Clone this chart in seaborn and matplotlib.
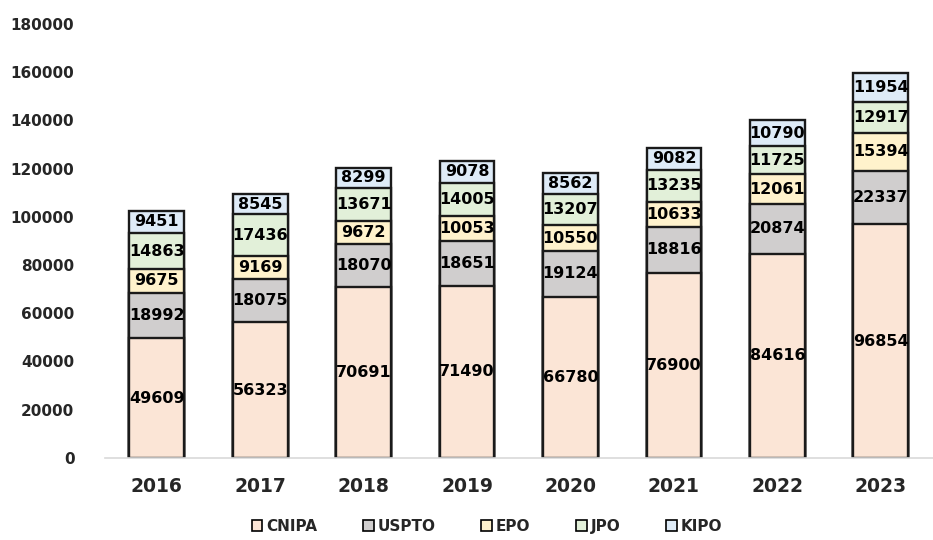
import numpy as np
import pandas as pd
import matplotlib
matplotlib.use("Agg")
import matplotlib.pyplot as plt
from matplotlib.patches import Patch
import seaborn as sns

# Donnees
years = ["2016", "2017", "2018", "2019", "2020", "2021", "2022", "2023"]
offices = ["CNIPA", "USPTO", "EPO", "JPO", "KIPO"]
cnipa = [49609, 56323, 70691, 71490, 66780, 76900, 84616, 96854]
uspto = [18992, 18075, 18070, 18651, 19124, 18816, 20874, 22337]
epo = [9675, 9169, 9672, 10053, 10550, 10633, 12061, 15394]
jpo = [14863, 17436, 13671, 14005, 13207, 13235, 11725, 12917]
kipo = [9451, 8545, 8299, 9078, 8562, 9082, 10790, 11954]
colors = ["#FBE5D6", "#D0CECE", "#FFF2CC", "#E2F0D9", "#DEEBF7"]

series = [cnipa, uspto, epo, jpo, kipo]
df = pd.DataFrame({name: vals for name, vals in zip(offices, series)})
df["year"] = years
cum = df[offices].cumsum(axis=1)

sns.set_style("white")
fig = plt.figure(figsize=(9.33, 5.4), dpi=100)
ax = fig.add_axes([0.1125, 0.152, 0.887, 0.8037])

# barres empilees : on trace les cumuls du plus haut au plus bas
for name, col in reversed(list(zip(offices, colors))):
    sns.barplot(x=df["year"], y=cum[name], color=col, saturation=1,
                edgecolor="#1a1a1a", linewidth=1.7, width=0.53, ax=ax, zorder=2)

# etiquettes des segments
for i in range(len(years)):
    for name in offices:
        top = cum.loc[i, name]
        val = df.loc[i, name]
        ax.text(i, top - val / 2, str(val), ha="center", va="center",
                fontsize=11.5, fontweight="bold", color="black", zorder=5)

ax.set_ylim(0, 180000)
ax.set_xlim(-0.5, len(years) - 0.5)
ax.set_yticks(np.arange(0, 180001, 20000))
ax.set_xlabel("")
ax.set_ylabel("")
for lab in ax.get_yticklabels():
    lab.set_fontweight("bold")
    lab.set_fontsize(11)
for lab in ax.get_xticklabels():
    lab.set_fontweight("bold")
    lab.set_fontsize(13.5)

for side in ["top", "right", "left"]:
    ax.spines[side].set_visible(False)
ax.spines["bottom"].set_color("#d9d9d9")
ax.spines["bottom"].set_linewidth(1.2)
ax.tick_params(axis="x", which="major", length=0, pad=14)
ax.tick_params(axis="y", length=0, pad=22)
ax.set_xticks(np.arange(-0.5, len(years), 1), minor=True)
ax.tick_params(axis="x", which="minor", length=6, color="#d9d9d9", width=1.2)

handles = [Patch(facecolor=c, edgecolor="black", linewidth=1.2) for c in colors]
fig.legend(handles, offices, loc="center", bbox_to_anchor=(0.522, 0.025),
           ncol=5, frameon=False, handlelength=0.7, handleheight=0.7,
           handletextpad=0.25, columnspacing=3.0,
           prop={"weight": "bold", "size": 11})

fig.savefig("out.png", dpi=100)
